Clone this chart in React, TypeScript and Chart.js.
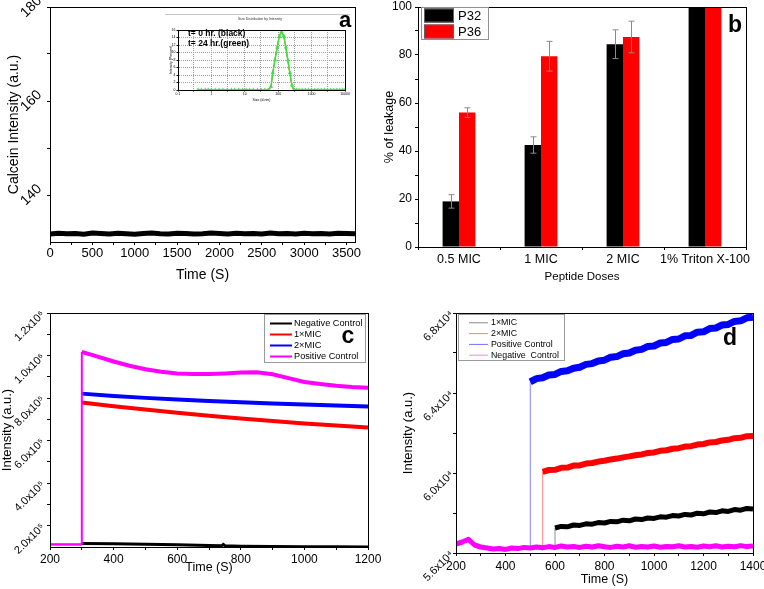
import React, { useEffect, useRef } from "react";
import { Chart, registerables } from "chart.js";

Chart.register(...registerables);

const FONT = "'Liberation Sans', Arial, Helvetica, sans-serif";
Chart.defaults.font.family = FONT;

/* ---------------- Panel a : calcein intensity ---------------- */
const aTime = [0, 100, 200, 300, 400, 500, 600, 700, 800, 900, 1000, 1100, 1200, 1300, 1400, 1500, 1600, 1700, 1800, 1900, 2000, 2100, 2200, 2300, 2400, 2500, 2600, 2700, 2800, 2900, 3000, 3100, 3200, 3300, 3400, 3500, 3600];
const aCalcein = [131.7, 131.85, 131.75, 131.8, 131.65, 131.9, 131.8, 131.7, 131.85, 131.75, 131.65, 131.8, 131.9, 131.75, 131.7, 131.85, 131.8, 131.7, 131.75, 131.9, 131.8, 131.7, 131.85, 131.75, 131.8, 131.7, 131.9, 131.75, 131.8, 131.7, 131.85, 131.75, 131.8, 131.7, 131.85, 131.8, 131.75];
const aXMajor = [0, 500, 1000, 1500, 2000, 2500, 3000, 3500];
const aXLabels = ["0", "500", "1000", "1500", "2000", "2500", "3000", "3500"];
const aXMinor = [250, 750, 1250, 1750, 2250, 2750, 3250];
const aYMajor = [140, 160, 180];
const aYLabels = ["140", "160", "180"];
const aYMinor = [150, 170];

/* inset: size distribution by intensity */
const insetSize = [0.4, 0.5, 0.65, 0.8, 1, 1.3, 1.7, 2.2, 3, 4, 5, 6.5, 8.5, 11, 14, 18, 24, 31, 40, 50, 60.8, 68.4, 80.2, 94, 108, 126, 148, 170, 195, 224, 258, 295, 350, 420, 520, 650, 800, 1000, 1250, 1550, 1950, 2400, 3000, 3700, 4600, 5700, 7000, 8600, 10000];
const insetT24 = [0, 0, 0, 0, 0, 0, 0, 0, 0, 0, 0, 0, 0, 0, 0, 0, 0, 0, 0, 0, 0.9, 4.6, 8, 11.4, 14.2, 15.5, 14.4, 11.4, 8, 4.6, 1.3, 0, 0, 0, 0, 0, 0, 0, 0, 0, 0, 0, 0, 0, 0, 0, 0, 0, 0];
const insetT0 = [0, 0, 0, 0, 0, 0, 0, 0, 0, 0, 0, 0, 0, 0, 0, 0, 0, 0, 0, 0, 0.6, 4.3, 8.2, 11.8, 14.6, 15.6, 14.1, 11, 7.6, 4.2, 1, 0, 0, 0, 0, 0, 0, 0, 0, 0, 0, 0, 0, 0, 0, 0, 0, 0, 0];
const insetXMajor = [0.1, 1, 10, 100, 1000, 10000];
const insetXLabels = ["0.1", "1", "10", "100", "1000", "10000"];
const insetXMinor = [0.3, 3, 30, 300, 3000];
const insetYMajor = [0, 2, 4, 6, 8, 10, 12, 14, 16];
const insetYLabels = ["0", "2", "4", "6", "8", "10", "12", "14", "16"];

/* ---------------- Panel b : % leakage ---------------- */
const bDoses = ["0.5 MIC", "1 MIC", "2 MIC", "1% Triton X-100"];
const bP32 = [19, 42.5, 84.5, 100];
const bP32Err = [2.8, 3.4, 6, 0];
const bP36 = [56, 79.5, 87.5, 100];
const bP36Err = [2, 6.2, 6.6, 0];
const bYMajor = [0, 20, 40, 60, 80, 100];
const bYLabels = ["0", "20", "40", "60", "80", "100"];
const bYMinor = [10, 30, 50, 70, 90];

/* ---------------- Panel c ---------------- */
const cTimeNeg = [300, 400, 500, 600, 700, 740, 745, 750, 800, 900, 1000, 1100, 1200];
const cNeg = [116000, 115000, 113000, 110000, 107000, 106000, 112000, 106000, 104000, 102500, 101500, 101000, 100500];
const cTimeMIC = [300, 400, 500, 600, 700, 800, 900, 1000, 1100, 1200];
const c1MIC = [779000, 762000, 746000, 731000, 717000, 704000, 692000, 681000, 671000, 662000];
const c2MIC = [821000, 810000, 801000, 793000, 786000, 781000, 775000, 770000, 765000, 761000];
const cTimePos = [200, 300, 300, 350, 400, 450, 500, 550, 600, 650, 700, 750, 800, 850, 900, 950, 1000, 1050, 1100, 1150, 1200];
const cPos = [112000, 112000, 1017000, 995000, 972000, 952000, 936000, 924000, 916000, 913000, 913000, 916000, 920000, 921000, 912000, 894000, 876000, 866000, 858000, 852000, 849000];
const cXMajor = [200, 400, 600, 800, 1000, 1200];
const cXLabels = ["200", "400", "600", "800", "1000", "1200"];
const cXMinor = [300, 500, 700, 900, 1100];
const cYMajor = [200000, 400000, 600000, 800000, 1000000, 1200000];
const cYLabels = ["2.0x10⁵", "4.0x10⁵", "6.0x10⁵", "8.0x10⁵", "1.0x10⁶", "1.2x10⁶"];
const cYMinor = [300000, 500000, 700000, 900000, 1100000];

/* ---------------- Panel d ---------------- */
const dTimeNeg = [200, 225, 250, 275, 300, 325, 350, 375, 400, 425, 450, 475, 500, 525, 550, 575, 600, 625, 650, 675, 700, 725, 750, 775, 800, 825, 850, 875, 900, 925, 950, 975, 1000, 1025, 1050, 1075, 1100, 1125, 1150, 1175, 1200, 1225, 1250, 1275, 1300, 1325, 1350, 1375, 1400];
const dNeg = [56450, 56550, 56680, 56400, 56300, 56250, 56200, 56220, 56180, 56250, 56220, 56280, 56250, 56300, 56260, 56320, 56280, 56350, 56300, 56320, 56280, 56340, 56300, 56360, 56310, 56280, 56340, 56300, 56360, 56290, 56330, 56300, 56350, 56290, 56330, 56310, 56360, 56300, 56330, 56290, 56350, 56310, 56360, 56300, 56340, 56310, 56370, 56320, 56350];
const dTimePos = [500, 500, 525, 550, 575, 600, 625, 650, 675, 700, 725, 750, 775, 800, 825, 850, 875, 900, 925, 950, 975, 1000, 1025, 1050, 1075, 1100, 1125, 1150, 1175, 1200, 1225, 1250, 1275, 1300, 1325, 1350, 1375, 1400];
const dPos = [56300, 64560, 64720, 64760, 64900, 64930, 65080, 65110, 65240, 65290, 65430, 65470, 65600, 65640, 65790, 65820, 65960, 66000, 66140, 66180, 66330, 66350, 66500, 66530, 66680, 66700, 66860, 66880, 67040, 67060, 67220, 67250, 67400, 67430, 67580, 67610, 67760, 67790];
const dTime2 = [550, 550, 575, 600, 625, 650, 675, 700, 725, 750, 775, 800, 825, 850, 875, 900, 925, 950, 975, 1000, 1025, 1050, 1075, 1100, 1125, 1150, 1175, 1200, 1225, 1250, 1275, 1300, 1325, 1350, 1375, 1400];
const d2MIC = [56300, 60060, 60150, 60160, 60260, 60270, 60370, 60380, 60470, 60500, 60570, 60610, 60680, 60720, 60780, 60830, 60890, 60930, 61000, 61030, 61110, 61140, 61210, 61240, 61320, 61340, 61420, 61450, 61530, 61550, 61630, 61660, 61740, 61760, 61840, 61850];
const dTime1 = [600, 600, 625, 650, 675, 700, 725, 750, 775, 800, 825, 850, 875, 900, 925, 950, 975, 1000, 1025, 1050, 1075, 1100, 1125, 1150, 1175, 1200, 1225, 1250, 1275, 1300, 1325, 1350, 1375, 1400];
const d1MIC = [56300, 57250, 57330, 57310, 57400, 57380, 57460, 57440, 57520, 57500, 57580, 57560, 57640, 57610, 57700, 57670, 57750, 57730, 57810, 57790, 57870, 57850, 57930, 57900, 57990, 57960, 58050, 58020, 58110, 58080, 58170, 58140, 58230, 58200];
const dXMajor = [200, 400, 600, 800, 1000, 1200, 1400];
const dXLabels = ["200", "400", "600", "800", "1000", "1200", "1400"];
const dXMinor = [300, 500, 700, 900, 1100, 1300];
const dYMajor = [56000, 60000, 64000, 68000];
const dYLabels = ["5.6x10⁴", "6.0x10⁴", "6.4x10⁴", "6.8x10⁴"];
const dYMinor = [58000, 62000, 66000];

/* ---------------- helpers ---------------- */
const pts = (xs: number[], ys: number[]) => xs.map((x, i) => ({ x, y: ys[i] }));

function tickSetter(major: number[], minor: number[]) {
  return (scale: any) => {
    scale.ticks = [...major, ...minor].sort((p, q) => p - q).map((v) => ({ value: v }));
  };
}
function tickLabeler(major: number[], labels: string[]) {
  return (v: any) => {
    const i = major.indexOf(Number(v));
    return i >= 0 ? labels[i] : "";
  };
}

function buildAxis(o: any) {
  const horizontal = o.position === "bottom";
  const ax: any = {
    type: o.type || "linear",
    position: o.position,
    grid: {
      drawOnChartArea: !!o.gridOn,
      drawTicks: true,
      tickLength: o.tickLen ?? 3,
      tickColor: "#000",
      color: o.gridColor || "#000",
      lineWidth: 1,
      offset: !!o.gridOffset,
    },
    border: { display: true, color: "#000", width: 1, dash: o.dash || [] },
    ticks: {
      color: "#000",
      font: { family: FONT, size: o.tickFont },
      padding: o.tickPad,
      autoSkip: false,
      minRotation: o.rotation || 0,
      maxRotation: o.rotation || 0,
      crossAlign: o.crossAlign || "near",
    },
    title: {
      display: true,
      text: o.title,
      color: "#000",
      font: { family: FONT, size: o.titleFont },
      padding: o.titlePad,
    },
    afterFit: horizontal
      ? (s: any) => { s.height = o.size; s.paddingLeft = 0; s.paddingRight = 0; }
      : (s: any) => { s.width = o.size; s.paddingTop = 0; s.paddingBottom = 0; },
  };
  if (o.min !== undefined) { ax.min = o.min; ax.max = o.max; ax.bounds = "data"; }
  if (o.offset !== undefined) ax.offset = o.offset;
  if (o.major) {
    ax.afterBuildTicks = tickSetter(o.major, o.minor || []);
    ax.ticks.callback = tickLabeler(o.major, o.labels);
  }
  return ax;
}

function baseOptions(padTop: number, padRight: number) {
  return {
    responsive: false,
    animation: false,
    devicePixelRatio: 1,
    events: [],
    layout: { padding: { top: padTop, right: padRight, left: 0, bottom: 0 } },
    plugins: { legend: { display: false }, tooltip: { enabled: false }, title: { display: false } },
  };
}

function frame(ctx: any, a: any, color = "#000") {
  const l = Math.round(a.left), t = Math.round(a.top), r = Math.round(a.right), b = Math.round(a.bottom);
  ctx.strokeStyle = color;
  ctx.lineWidth = 1;
  ctx.setLineDash([]);
  ctx.strokeRect(l + 0.5, t + 0.5, r - l, b - t);
}

function letter(ctx: any, text: string, x: number, y: number, size: number) {
  ctx.fillStyle = "#000";
  ctx.font = `bold ${size}px ${FONT}`;
  ctx.textAlign = "center";
  ctx.textBaseline = "alphabetic";
  ctx.fillText(text, x, y);
}

function lineLegend(chart: any, o: any) {
  const ctx = chart.ctx;
  ctx.strokeStyle = o.boxColor;
  ctx.lineWidth = 1;
  ctx.strokeRect(o.bx + 0.5, o.by + 0.5, o.bw, o.bh);
  ctx.font = `${o.font}px ${FONT}`;
  ctx.textAlign = "left";
  ctx.textBaseline = "middle";
  chart.data.datasets.forEach((ds: any, i: number) => {
    const y = o.y0 + i * o.dy;
    ctx.strokeStyle = ds.legendColor || ds.borderColor;
    ctx.lineWidth = o.lw;
    ctx.beginPath();
    ctx.moveTo(o.x0, y);
    ctx.lineTo(o.x1, y);
    ctx.stroke();
    ctx.fillStyle = "#000";
    ctx.fillText(ds.label, o.tx, y);
  });
}

const isJump = (c: any) => c.p0.parsed.x === c.p1.parsed.x;

/* ---------------- chart configs ---------------- */
function makeA(): any {
  return {
    type: "line",
    data: {
      datasets: [
        { label: "Calcein", data: pts(aTime, aCalcein), borderColor: "#000", borderWidth: 5, pointRadius: 0, tension: 0, borderJoinStyle: "round" },
      ],
    },
    options: {
      ...baseOptions(7, 27),
      scales: {
        x: buildAxis({ position: "bottom", min: 0, max: 3600, major: aXMajor, minor: aXMinor, labels: aXLabels, size: 48, tickFont: 13, tickPad: 1, title: "Time (S)", titleFont: 14, titlePad: { top: 0, bottom: 6.6 } }),
        y: buildAxis({ position: "left", min: 130, max: 180, major: aYMajor, minor: aYMinor, labels: aYLabels, size: 50, tickFont: 14, tickPad: 4, rotation: 45, crossAlign: "center", title: "Calcein Intensity (a.u.)", titleFont: 14, titlePad: { top: 6, bottom: 0 } }),
      },
    },
    plugins: [
      {
        id: "aDecor",
        afterDraw(chart: any) {
          const ctx = chart.ctx;
          ctx.save();
          frame(ctx, chart.chartArea);
          letter(ctx, "a", 345, 27, 22);
          ctx.restore();
        },
      },
    ],
  };
}

function makeInset(): any {
  return {
    type: "line",
    data: {
      datasets: [
        { label: "t= 24 hr.", data: pts(insetSize, insetT24), borderColor: "#3fe03f", borderWidth: 1.5, pointStyle: "triangle", pointRadius: 2.4, pointBackgroundColor: "#3fe03f", pointBorderColor: "#3fe03f", pointBorderWidth: 0, tension: 0 },
        { label: "t= 0 hr.", data: pts(insetSize, insetT0), borderColor: "#c8502a", borderWidth: 1, pointRadius: 0, tension: 0 },
      ],
    },
    options: {
      ...baseOptions(20, 7),
      scales: {
        x: buildAxis({ type: "logarithmic", position: "bottom", min: 0.1, max: 10000, major: insetXMajor, minor: insetXMinor, labels: insetXLabels, size: 16, tickFont: 3.5, tickPad: 0.5, tickLen: 1.5, title: "Size (d.nm)", titleFont: 3.5, titlePad: { top: 0, bottom: 3.5 }, gridOn: true, gridColor: "#a0a0a0", dash: [1, 1] }),
        y: buildAxis({ position: "left", min: 0, max: 16, major: insetYMajor, minor: [], labels: insetYLabels, size: 18, tickFont: 3.5, tickPad: 1, tickLen: 1.5, title: "Intensity (Percent)", titleFont: 3.5, titlePad: { top: 8.5, bottom: 0 }, gridOn: true, gridColor: "#a0a0a0", dash: [1, 1] }),
      },
    },
    plugins: [
      {
        id: "insetDecor",
        afterDraw(chart: any) {
          const ctx = chart.ctx;
          ctx.save();
          frame(ctx, chart.chartArea);
          ctx.strokeStyle = "#c8c8c8";
          ctx.beginPath();
          ctx.moveTo(5, 4.5);
          ctx.lineTo(190, 4.5);
          ctx.stroke();
          ctx.fillStyle = "#333";
          ctx.font = `3.5px ${FONT}`;
          ctx.textAlign = "center";
          ctx.textBaseline = "middle";
          ctx.fillText("Size Distribution by Intensity", 100, 9);
          ctx.fillStyle = "#000";
          ctx.font = `bold 8.5px ${FONT}`;
          ctx.textAlign = "left";
          ctx.fillText("t= 0 hr. (black)", 28, 24);
          ctx.fillText("t= 24 hr.(green)", 28, 34);
          ctx.restore();
        },
      },
    ],
  };
}

function makeB(): any {
  return {
    type: "bar",
    data: {
      labels: bDoses,
      datasets: [
        { label: "P32", data: bP32, errors: bP32Err, backgroundColor: "#000000", borderWidth: 0, categoryPercentage: 0.4, barPercentage: 1 },
        { label: "P36", data: bP36, errors: bP36Err, backgroundColor: "#ff0000", borderWidth: 0, categoryPercentage: 0.4, barPercentage: 1 },
      ],
    },
    options: {
      ...baseOptions(7, 18),
      scales: {
        x: buildAxis({ type: "category", position: "bottom", offset: true, gridOffset: true, size: 43, tickFont: 12.5, tickPad: 2, title: "Peptide Doses", titleFont: 11.5, titlePad: { top: 0, bottom: 6 } }),
        y: buildAxis({ position: "left", min: 0, max: 100, major: bYMajor, minor: bYMinor, labels: bYLabels, size: 36, tickFont: 12, tickPad: 3, title: "% of leakage", titleFont: 12.5, titlePad: { top: 0, bottom: 0 } }),
      },
    },
    plugins: [
      {
        id: "bDecor",
        afterDatasetsDraw(chart: any) {
          const ctx = chart.ctx;
          const ys = chart.scales.y;
          ctx.save();
          ctx.strokeStyle = "#8a8a8a";
          ctx.lineWidth = 1;
          chart.data.datasets.forEach((ds: any, di: number) => {
            const meta = chart.getDatasetMeta(di);
            meta.data.forEach((bar: any, i: number) => {
              const e = ds.errors[i];
              if (!e) return;
              const v = ds.data[i];
              const x = Math.round(bar.x) + 0.5;
              const yt = ys.getPixelForValue(v + e);
              const yb = ys.getPixelForValue(v - e);
              ctx.beginPath();
              ctx.moveTo(x, yt);
              ctx.lineTo(x, yb);
              ctx.moveTo(x - 3, yt);
              ctx.lineTo(x + 3, yt);
              ctx.moveTo(x - 3, yb);
              ctx.lineTo(x + 3, yb);
              ctx.stroke();
            });
          });
          ctx.restore();
        },
        afterDraw(chart: any) {
          const ctx = chart.ctx;
          ctx.save();
          frame(ctx, chart.chartArea);
          ctx.strokeStyle = "#909090";
          ctx.lineWidth = 1;
          ctx.strokeRect(39.5, 7.5, 67, 32);
          ctx.font = `13px ${FONT}`;
          ctx.textAlign = "left";
          ctx.textBaseline = "middle";
          chart.data.datasets.forEach((ds: any, i: number) => {
            const y = 8.5 + i * 16;
            ctx.fillStyle = ds.backgroundColor;
            ctx.fillRect(42, y, 30, 14);
            ctx.strokeStyle = "#606060";
            ctx.strokeRect(42.5, y + 0.5, 29, 13);
            ctx.fillStyle = "#000";
            ctx.fillText(ds.label, 76, y + 7.5);
          });
          letter(ctx, "b", 353, 32, 23);
          ctx.restore();
        },
      },
    ],
  };
}

function makeC(): any {
  return {
    type: "line",
    data: {
      datasets: [
        { label: "Negative Control", data: pts(cTimeNeg, cNeg), borderColor: "#000000", borderWidth: 3, pointRadius: 0, tension: 0, order: 4 },
        { label: "1×MIC", data: pts(cTimeMIC, c1MIC), borderColor: "#ff0000", borderWidth: 4, pointRadius: 0, tension: 0, order: 3 },
        { label: "2×MIC", data: pts(cTimeMIC, c2MIC), borderColor: "#0000ff", borderWidth: 4, pointRadius: 0, tension: 0, order: 2 },
        {
          label: "Positive Control", data: pts(cTimePos, cPos), borderColor: "#ff00ff", borderWidth: 4, pointRadius: 0, tension: 0, order: 1,
          segment: { borderWidth: (c: any) => (isJump(c) ? 2 : c.p1.parsed.x <= 300 ? 2.5 : 4) },
        },
      ],
    },
    options: {
      ...baseOptions(23, 14),
      scales: {
        x: buildAxis({ position: "bottom", min: 200, max: 1200, major: cXMajor, minor: cXMinor, labels: cXLabels, size: 42, tickFont: 12, tickPad: 2, title: "Time (S)", titleFont: 12.5, titlePad: { top: 0, bottom: 14 } }),
        y: buildAxis({ position: "left", min: 100000, max: 1200000, major: cYMajor, minor: cYMinor, labels: cYLabels, size: 50, tickFont: 11, tickPad: 4, rotation: 45, title: "Intensity (a.u.)", titleFont: 13, titlePad: { top: 0, bottom: 0 } }),
      },
    },
    plugins: [
      {
        id: "cDecor",
        afterDraw(chart: any) {
          const ctx = chart.ctx;
          ctx.save();
          frame(ctx, chart.chartArea);
          lineLegend(chart, { bx: 264, by: 24, bw: 101, bh: 48, boxColor: "#9a9a9a", font: 9.2, y0: 33.5, dy: 11, x0: 270, x1: 292, tx: 294, lw: 2 });
          letter(ctx, "c", 348, 53, 23);
          ctx.restore();
        },
      },
    ],
  };
}

function makeD(): any {
  const seg = (jc: string, w: number) => ({
    borderColor: (c: any) => (isJump(c) ? jc : undefined),
    borderWidth: (c: any) => (isJump(c) ? 1 : w),
  });
  return {
    type: "line",
    data: {
      datasets: [
        { label: "1×MIC", data: pts(dTime1, d1MIC), borderColor: "#000000", legendColor: "#8a8a8a", borderWidth: 5, pointRadius: 0, tension: 0, order: 2, borderJoinStyle: "round", segment: seg("#909090", 5) },
        { label: "2×MIC", data: pts(dTime2, d2MIC), borderColor: "#ff0000", legendColor: "#ff8080", borderWidth: 6, pointRadius: 0, tension: 0, order: 3, borderJoinStyle: "round", segment: seg("#ff8a8a", 6) },
        { label: "Positive Control", data: pts(dTimePos, dPos), borderColor: "#0000ff", legendColor: "#7070ff", borderWidth: 7, pointRadius: 0, tension: 0, order: 4, borderJoinStyle: "round", segment: seg("#8080ff", 7) },
        { label: "Negative  Control", data: pts(dTimeNeg, dNeg), borderColor: "#ff00ff", legendColor: "#ff80ff", borderWidth: 5, pointRadius: 0, tension: 0, order: 1, borderJoinStyle: "round" },
      ],
    },
    options: {
      ...baseOptions(23, 11),
      scales: {
        x: buildAxis({ position: "bottom", min: 200, max: 1400, major: dXMajor, minor: dXMinor, labels: dXLabels, size: 36, tickFont: 12, tickPad: 3, title: "Time (S)", titleFont: 12.5, titlePad: { top: 0, bottom: 1.5 } }),
        y: buildAxis({ position: "left", min: 56000, max: 68000, major: dYMajor, minor: dYMinor, labels: dYLabels, size: 74, tickFont: 11, tickPad: 1, rotation: 45, title: "Intensity (a.u.)", titleFont: 13, titlePad: { top: 19, bottom: 0 } }),
      },
    },
    plugins: [
      {
        id: "dDecor",
        afterDraw(chart: any) {
          const ctx = chart.ctx;
          ctx.save();
          frame(ctx, chart.chartArea);
          lineLegend(chart, { bx: 76, by: 24, bw: 106, bh: 46, boxColor: "#9a9a9a", font: 8.8, y0: 32.8, dy: 10.8, x0: 87, x1: 106, tx: 109, lw: 1 });
          letter(ctx, "d", 348, 55, 23);
          ctx.restore();
        },
      },
    ],
  };
}

/* ---------------- components ---------------- */
function ChartBox({ x, y, w, h, make }: { x: number; y: number; w: number; h: number; make: () => any }) {
  const ref = useRef<HTMLCanvasElement>(null);
  useEffect(() => {
    const chart = new Chart(ref.current as HTMLCanvasElement, make());
    return () => chart.destroy();
  }, []);
  return (
    <canvas
      ref={ref}
      width={w}
      height={h}
      style={{ position: "absolute", left: x, top: y, width: w, height: h }}
    />
  );
}

export default function App() {
  return (
    <div style={{ position: "absolute", left: 0, top: 0, width: 764, height: 589, background: "#fff", overflow: "hidden" }}>
      <ChartBox x={0} y={0} w={382} h={290} make={makeA} />
      <ChartBox x={160} y={10} w={192} h={96} make={makeInset} />
      <ChartBox x={382} y={0} w={382} h={290} make={makeB} />
      <ChartBox x={0} y={290} w={382} h={299} make={makeC} />
      <ChartBox x={382} y={290} w={382} h={299} make={makeD} />
    </div>
  );
}
